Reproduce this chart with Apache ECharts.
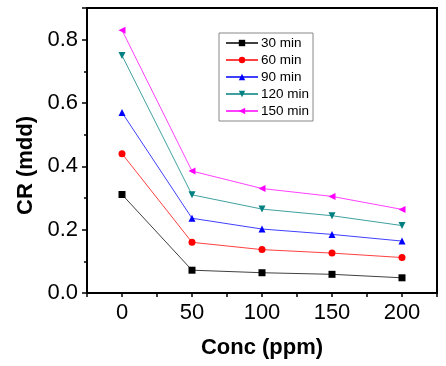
<!DOCTYPE html>
<html>
<head>
<meta charset="utf-8">
<script src="https://cdn.jsdelivr.net/npm/echarts@6/dist/echarts.min.js"></script>
<style>
  html, body {margin:0; padding:0; background:#fff;}
  #chart {width:446px; height:366px;}
</style>
</head>
<body>
<div id="chart"></div>
<script type="text/javascript">
  // concentrations (ppm)
  var conc = [0, 50, 100, 150, 200];
  var names = ['30 min', '60 min', '90 min', '120 min', '150 min'];
  var cr30  = [0.311, 0.072, 0.064, 0.059, 0.048];
  var cr60  = [0.440, 0.160, 0.137, 0.126, 0.112];
  var cr90  = [0.570, 0.236, 0.202, 0.185, 0.164];
  var cr120 = [0.750, 0.310, 0.265, 0.244, 0.213];
  var cr150 = [0.830, 0.385, 0.330, 0.305, 0.264];

  var colors = ['#000000', '#ff0000', '#0000ff', '#008080', '#ff00ff'];
  var symbols = ['rect', 'circle', 'triangle',
    'path://M0,0 L10,0 L5,9 Z',
    'path://M9,0 L9,10 L0,5 Z'];
  var values = [cr30, cr60, cr90, cr120, cr150];

  function pairs(ys) {
    return conc.map(function (x, i) { return [x, ys[i]]; });
  }

  var series = names.map(function (n, k) {
    return {
      name: n,
      type: 'line',
      data: pairs(values[k]),
      symbol: symbols[k],
      symbolSize: 7,
      color: colors[k],
      lineStyle: {width: 1, color: colors[k], opacity: 0.75},
      itemStyle: {color: colors[k]}
    };
  });

  var chart = echarts.init(document.getElementById('chart'));
  chart.setOption({
    animation: false,
    backgroundColor: '#fff',
    textStyle: {fontFamily: 'Liberation Sans, Arial, sans-serif'},
    grid: {left: 87, right: 9, top: 8, bottom: 73, show: true,
      borderColor: '#000', borderWidth: 2},
    legend: {
      orient: 'vertical', left: 219, top: 33,
      data: names,
      itemWidth: 32, itemHeight: 8, itemGap: 3,
      padding: [3, 4, 3, 6],
      borderColor: '#888', borderWidth: 1,
      textStyle: {fontSize: 13.5, color: '#000', padding: [0, 0, 0, -2]}
    },
    xAxis: {
      type: 'value', min: -25, max: 225, interval: 25,
      name: 'Conc (ppm)', nameLocation: 'middle', nameGap: 44,
      nameTextStyle: {fontSize: 22, fontWeight: 'bold', color: '#000'},
      axisLine: {onZero: false, lineStyle: {color: '#000', width: 2}},
      axisTick: {inside: false, length: 4, lineStyle: {color: '#000', width: 1.5}},
      axisLabel: {fontSize: 22, color: '#000', margin: 9,
        formatter: function (v) { return (v % 50 === 0 && v >= 0 && v <= 200) ? String(v) : ''; }},
      splitLine: {show: false}
    },
    yAxis: [{
      type: 'value', min: 0, max: 0.9, interval: 0.1,
      name: 'CR (mdd)', nameLocation: 'middle', nameGap: 48,
      nameTextStyle: {fontSize: 22, fontWeight: 'bold', color: '#000', padding: [0, 30, 0, 0]},
      axisLine: {onZero: false, lineStyle: {color: '#000', width: 2}},
      axisTick: {inside: false, length: 3, lineStyle: {color: '#000', width: 1.5}},
      axisLabel: {fontSize: 22, color: '#000', margin: 9, showMaxLabel: false,
        formatter: function (v) {
          var k = Math.round(v * 10);
          return (k % 2 === 0 && k <= 8) ? v.toFixed(1) : '';
        }},
      splitLine: {show: false}
    }, {
      // major ticks only
      type: 'value', min: 0, max: 0.9, interval: 0.2, position: 'left',
      axisLine: {show: false, onZero: false},
      axisTick: {inside: false, length: 5, lineStyle: {color: '#000', width: 1.5}},
      axisLabel: {show: false},
      splitLine: {show: false}
    }],
    series: series
  });
</script>
</body>
</html>
